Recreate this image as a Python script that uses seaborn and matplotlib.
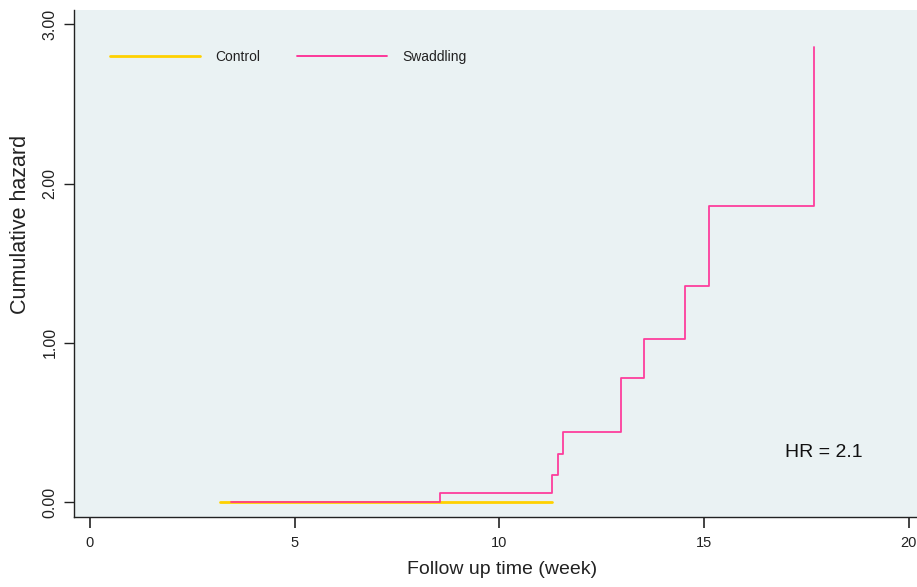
import matplotlib
matplotlib.use("Agg")
import matplotlib.pyplot as plt
import seaborn as sns
import pandas as pd

# ---- data ----
control_time = [3.17, 11.28]
control_hazard = [0.0, 0.0]

swaddling_time = [3.44, 8.55, 11.28, 11.42, 11.56, 12.98, 13.53, 14.53, 15.12, 17.68]
swaddling_hazard = [0.0, 0.058, 0.17, 0.30, 0.44, 0.78, 1.025, 1.357, 1.86, 2.855]

x_ticks = [0, 5, 10, 15, 20]
y_ticks = [0.0, 1.0, 2.0, 3.0]
y_tick_labels = ["0.00", "1.00", "2.00", "3.00"]
hr_text = "HR = 2.1"

sns.set_theme(style="ticks")
plt.rcParams["font.family"] = ["Liberation Sans", "DejaVu Sans"]

ctrl = pd.DataFrame({"time": control_time, "hazard": control_hazard})
swad = pd.DataFrame({"time": swaddling_time, "hazard": swaddling_hazard})

fig = plt.figure(figsize=(9.17, 5.87), dpi=100)
ax = fig.add_axes([74 / 917, 1 - 517 / 587, 1 - 74 / 917, (517 - 10) / 587])
ax.set_facecolor("#EAF2F3")

gold = "#FFD100"
pink = "#FF2A92"

sns.lineplot(data=ctrl, x="time", y="hazard", ax=ax, color=gold, linewidth=2.0,
             drawstyle="steps-post", estimator=None, label="Control")
sns.lineplot(data=swad, x="time", y="hazard", ax=ax, color=pink, linewidth=1.3,
             drawstyle="steps-post", estimator=None, label="Swaddling", alpha=0.9)

ax.set_xlim(-0.39, 20.2)
ax.set_ylim(-0.094, 3.09)
ax.set_xticks(x_ticks)
ax.set_xticklabels([str(t) for t in x_ticks], fontsize=10.5)
ax.set_yticks(y_ticks)
ax.set_yticklabels(y_tick_labels, fontsize=11.5, rotation=90, va="center")

for s in ["top", "right"]:
    ax.spines[s].set_visible(False)
for s in ["left", "bottom"]:
    ax.spines[s].set_color("#222222")
    ax.spines[s].set_linewidth(1.0)

ax.tick_params(axis="x", direction="out", length=8, width=1.2, color="#222222",
               pad=6, labelcolor="#222222")
ax.tick_params(axis="y", direction="out", length=7, width=1.0, color="#222222",
               pad=5, labelcolor="#222222")

ax.set_xlabel("Follow up time (week)", fontsize=14, color="#222222")
ax.set_ylabel("Cumulative hazard", fontsize=15.5, color="#222222")
ax.xaxis.set_label_coords(0.508, -0.087)
ax.yaxis.set_label_coords(-0.051, 0.578)

ax.text(16.97, 0.31, hr_text, fontsize=14, color="#111111", ha="left", va="center")

leg = ax.legend(loc="center left", bbox_to_anchor=((110 - 74) / (917 - 74), (517 - 57) / 507),
                ncol=2, frameon=False, fontsize=10, handlelength=6.5, handletextpad=1.1,
                columnspacing=2.6, borderpad=0, borderaxespad=0)
for t in leg.get_texts():
    t.set_color("#222222")
leg_lines = leg.get_lines()
leg_lines[1].set_alpha(1.0)

fig.savefig("out.png", dpi=100, facecolor="white")
